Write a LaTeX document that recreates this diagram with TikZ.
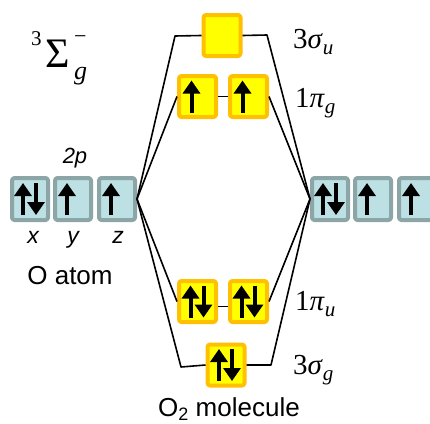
\documentclass[tikz,border=0pt]{standalone}
\usepackage{fontspec}
\setmainfont{Liberation Sans}
\newfontfamily\timesfont{Liberation Serif}
\usetikzlibrary{arrows.meta}
\definecolor{mofill}{HTML}{FFFF00}
\definecolor{moedge}{HTML}{FFC000}
\definecolor{aofill}{HTML}{BCE0E3}
\definecolor{aoedge}{HTML}{8CA5A7}
% molecular-orbital label: number, greek letter, subscript
\newcommand{\molabel}[3]{{\timesfont\fontsize{29}{29}\selectfont #1\textit{#2}\raisebox{-6pt}{\fontsize{21}{21}\selectfont\textit{#3}}}}

\begin{document}
\begin{tikzpicture}[
  x=1pt,
  y=-1pt,
  line join=round,
  aobox/.style={draw=aoedge,fill=aofill,line width=4pt,rounded corners=2.5pt,
    minimum width=36pt,minimum height=42pt,inner sep=0pt},
  mobox/.style={draw=moedge,fill=mofill,line width=4pt,rounded corners=2.5pt,
    minimum width=37pt,minimum height=41pt,inner sep=0pt},
  level/.style={draw=black,line width=1.6pt},
  spin/.style={draw=black,line width=4pt,-{Triangle[length=13pt,width=17pt]}},
  sanslabel/.style={inner sep=0pt,anchor=base,font=\fontsize{26}{26}\selectfont},
  molabelnode/.style={inner sep=0pt,anchor=base west}
]
  \useasboundingbox (0,0) rectangle (430,423);

  % O atom 2p orbitals, left and right
  \node[aobox] (L1) at (30,199) {};
  \node[aobox] (L2) at (73,199) {};
  \node[aobox] (L3) at (117,199) {};
  \node[aobox] (R1) at (330,199) {};
  \node[aobox] (R2) at (373,199) {};
  \node[aobox] (R3) at (417,199) {};

  % Molecular orbitals of O2
  \node[mobox] (su)  at (222,35.5) {};
  \node[mobox] (pg1) at (197.5,96.5) {};
  \node[mobox] (pg2) at (248.5,96.5) {};
  \node[mobox] (pu1) at (197.5,301.5) {};
  \node[mobox] (pu2) at (248.5,301.5) {};
  \node[mobox] (sg)  at (226,365) {};

  % Correlation lines
  \coordinate (suL) at (175,36);
  \coordinate (suR) at (267,35);
  \coordinate (sgL) at (181,367);
  \coordinate (sgR) at (271,365);
  \draw[level] (L3.east) -- (suL) -- (su.west);
  \draw[level] (su.east) -- (suR) -- (R1.west);
  \draw[level] (L3.east) -- (pg1.west);
  \draw[level] (pg1.east) -- (pg2.west);
  \draw[level] (pg2.east) -- (R1.west);
  \draw[level] (L3.east) -- (pu1.west);
  \draw[level] ([yshift=-5pt]pu1.east) -- ([yshift=-5pt]pu2.west);
  \draw[level] (pu2.east) -- (R1.west);
  \draw[level] (L3.east) -- (sgL) -- (sg.west);
  \draw[level] (sg.east) -- (sgR) -- (R1.west);

  % Electrons: single spins and pairs
  \foreach \b in {L2,L3,R2,R3,pg1,pg2} {
    \draw[spin] ([xshift=-6pt,yshift=-16pt]\b.center) -- ([xshift=-6pt,yshift=16pt]\b.center);
  }
  \foreach \b in {L1,R1,pu1,pu2,sg} {
    \draw[spin] ([xshift=-7pt,yshift=-16pt]\b.center) -- ([xshift=-7pt,yshift=16pt]\b.center);
    \draw[spin] ([xshift=6pt,yshift=16pt]\b.center) -- ([xshift=6pt,yshift=-16pt]\b.center);
  }

  % Labels
  \node[molabelnode] (lsu) at (293,48) {\molabel{3}{σ}{u}};
  \node[molabelnode] (lpg) at (295,107) {\molabel{1}{π}{g}};
  \node[molabelnode] (lpu) at (295,310) {\molabel{1}{π}{u}};
  \node[molabelnode] (lsg) at (293,374) {\molabel{3}{σ}{g}};
  \node[molabelnode] (term) at (31,67) {\timesfont
    \raisebox{22pt}{\fontsize{21}{21}\selectfont 3}\hspace{4pt}%
    {\fontsize{42}{42}\selectfont Σ}\hspace{4pt}%
    \rlap{\raisebox{24pt}{\fontsize{22}{22}\selectfont −}}%
    \raisebox{-12pt}{\fontsize{26}{26}\selectfont\textit{g}}};
  \node[sanslabel,font=\fontsize{22}{22}\selectfont\itshape] (twop) at (75,163) {2p};
  \node[sanslabel,font=\fontsize{23}{23}\selectfont\itshape] (lx) at (33,243) {x};
  \node[sanslabel,font=\fontsize{23}{23}\selectfont\itshape] (ly) at (73,243) {y};
  \node[sanslabel,font=\fontsize{23}{23}\selectfont\itshape] (lz) at (118,243) {z};
  \node[sanslabel] (atom) at (70,284) {O atom};
  \node[sanslabel] (mol) at (229,416) {O\raisebox{-4pt}{\fontsize{18}{18}\selectfont 2} molecule};
\end{tikzpicture}
\end{document}
